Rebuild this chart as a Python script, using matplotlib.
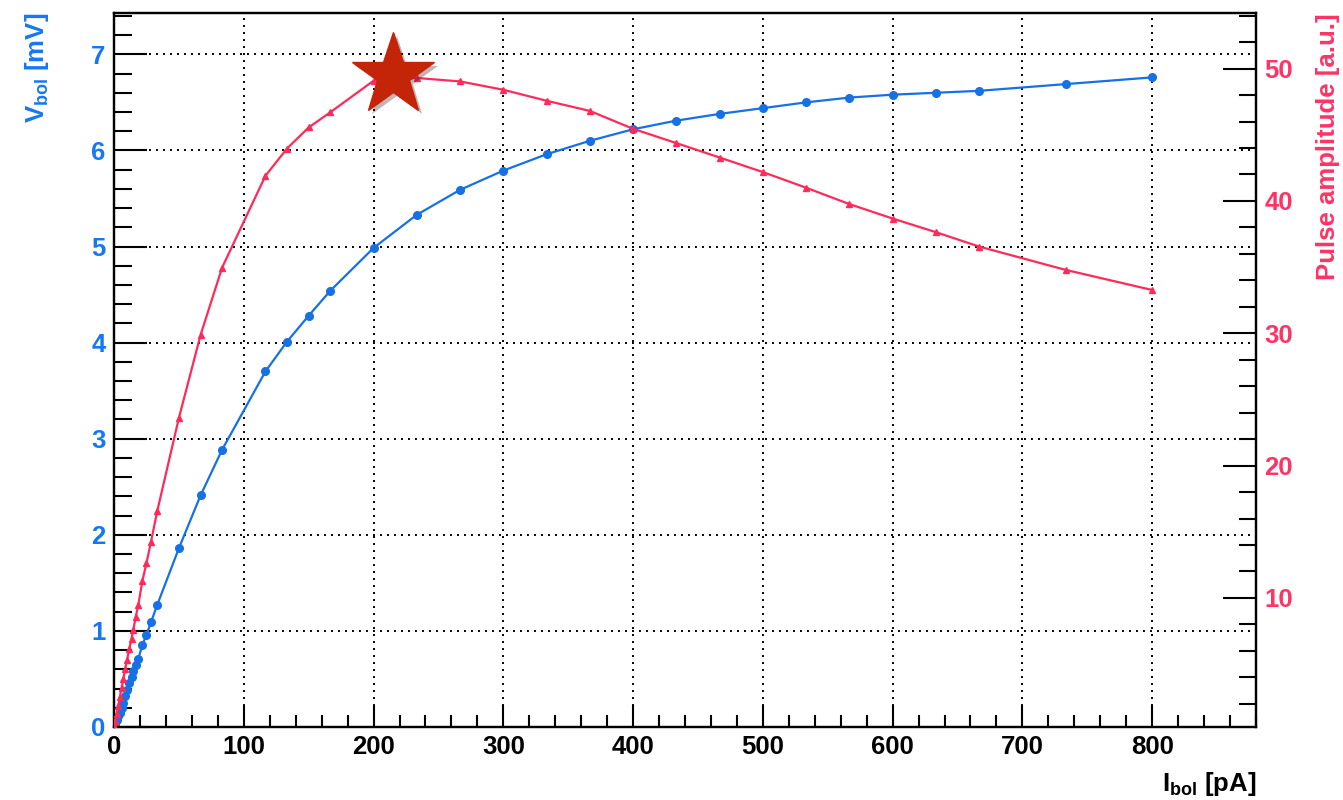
import matplotlib
matplotlib.use('Agg')
import matplotlib.pyplot as plt
import matplotlib.patheffects as pe
from matplotlib.ticker import MultipleLocator

# bias current [pA], shared by both curves
current = [0, 1, 2, 3.2, 4.5, 5.8, 7.2, 8.5, 10, 11.8, 13.5, 14.9, 16.7, 18.7, 21.8,
           25, 28.5, 33.3, 50, 66.7, 83.3, 116.7, 133.3, 150, 166.7, 200, 233.3,
           266.7, 300, 333.3, 366.7, 400, 433.3, 466.7, 500, 533.3, 566.7, 600,
           633.3, 666.7, 733.3, 800]

# bolometer voltage [mV]
v_bol = [0, 0.03, 0.07, 0.11, 0.15, 0.2, 0.25, 0.32, 0.38, 0.455, 0.52, 0.58, 0.65,
         0.71, 0.85, 0.96, 1.09, 1.27, 1.86, 2.41, 2.885, 3.70, 4.01, 4.28, 4.54,
         4.985, 5.33, 5.59, 5.79, 5.96, 6.10, 6.22, 6.31, 6.38, 6.44, 6.50, 6.55,
         6.58, 6.60, 6.62, 6.69, 6.76]

# pulse amplitude [a.u.]
pulse = [0.3, 0.7, 1.2, 1.8, 2.5, 3.2, 3.9, 4.6, 5.29, 6.17, 6.93, 7.6, 8.56, 9.45,
         11.26, 12.63, 14.24, 16.56, 23.6, 29.87, 34.96, 41.9, 43.96, 45.55, 46.7,
         49.08, 49.29, 49.03, 48.4, 47.57, 46.8, 45.45, 44.37, 43.28, 42.18, 41.0,
         39.76, 38.67, 37.64, 36.55, 34.79, 33.27]

# optimum working point
star_current = 215
star_pulse = 49.5

BLUE = '#1670e6'
BLUE_TXT = '#1777f2'
RED = '#ff2a5a'
RED_TXT = '#ff3366'

plt.rcParams['font.family'] = ['Liberation Sans', 'DejaVu Sans']
plt.rcParams['font.weight'] = 'bold'
plt.rcParams['mathtext.fontset'] = 'custom'
plt.rcParams['mathtext.rm'] = 'Liberation Sans:bold'
plt.rcParams['mathtext.bf'] = 'Liberation Sans:bold'

W, H = 1343, 800
fig = plt.figure(figsize=(W / 100, H / 100), dpi=100)
ax = fig.add_axes([114 / W, 1 - 727 / H, (1256 - 114) / W, (727 - 13) / H])

ax.plot(current, v_bol, color=BLUE, lw=1.6, marker='o', ms=5.5, zorder=3)
ax.set_xlim(0, 880)
ax.set_ylim(0, 7.43)

grid_style = dict(color='black', lw=1.4, linestyle=(0, (1, 2.6)))
ax.grid(True, **grid_style)

ax.xaxis.set_major_locator(MultipleLocator(100))
ax.xaxis.set_minor_locator(MultipleLocator(20))
ax.yaxis.set_major_locator(MultipleLocator(1))
ax.yaxis.set_minor_locator(MultipleLocator(0.2))
ax.tick_params(which='both', direction='in', top=False, right=False, width=1.5)
ax.tick_params(axis='y', which='major', length=24, labelsize=18.5, labelcolor=BLUE_TXT, pad=6)
ax.tick_params(axis='y', which='minor', length=13)
ax.tick_params(axis='x', which='major', length=16, labelsize=18.5, pad=6)
ax.tick_params(axis='x', which='minor', length=9)
for s in ax.spines.values():
    s.set_linewidth(1.6)

ax2 = ax.twinx()
ax2.plot(current, pulse, color=RED, lw=1.6, marker='^', ms=5, zorder=3)
ax2.set_ylim(0.25, 54.2)
ax2.yaxis.set_major_locator(MultipleLocator(10))
ax2.yaxis.set_minor_locator(MultipleLocator(2))
ax2.tick_params(which='both', direction='in', width=1.5)
ax2.tick_params(axis='y', which='major', length=24, labelsize=18.5, labelcolor=RED_TXT, pad=6)
ax2.tick_params(axis='y', which='minor', length=12)
for s in ax2.spines.values():
    s.set_linewidth(1.6)

ax2.plot([star_current], [star_pulse], marker='*', ms=62, color='#c42408',
         linestyle='none', zorder=5,
         path_effects=[pe.SimplePatchShadow(offset=(3, -3), alpha=0.3), pe.Normal()])

fig.text(37 / W, 1 - 13 / H, r'V$_{\mathbf{bol}}$ [mV]', rotation=90, ha='center',
         va='top', fontsize=18.5, color=BLUE_TXT, fontweight='bold')
fig.text(1328 / W, 1 - 13 / H, 'Pulse amplitude [a.u.]', rotation=90, ha='center',
         va='top', fontsize=18.5, color=RED_TXT, fontweight='bold')
fig.text(1256 / W, 1 - 770 / H, r'I$_{\mathbf{bol}}$ [pA]', ha='right', va='top',
         fontsize=18.5, color='black', fontweight='bold')

fig.savefig('out.png', dpi=100)
